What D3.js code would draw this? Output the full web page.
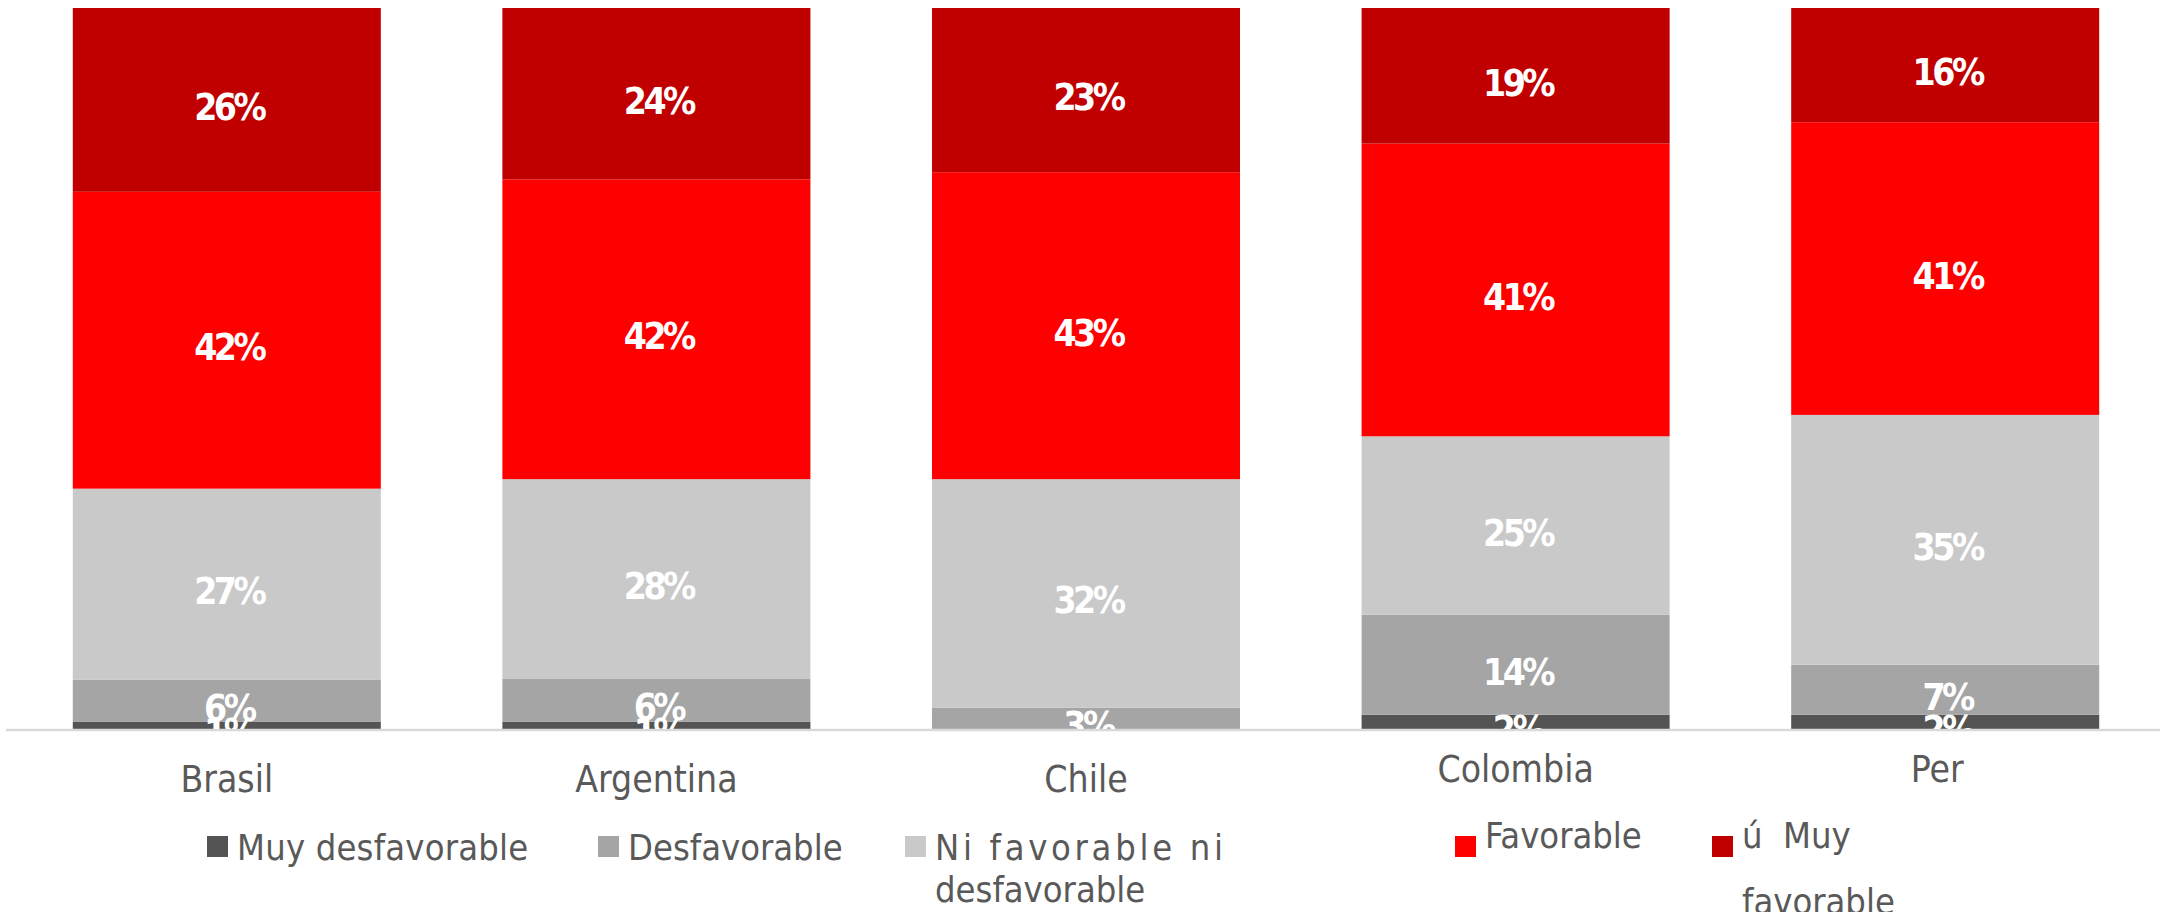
<!DOCTYPE html>
<html>
<head>
<meta charset="utf-8">
<script src="https://cdn.jsdelivr.net/npm/d3@7"></script>
<style>
  html, body { margin: 0; padding: 0; background: #ffffff; }
  svg { display: block; }
  .cond { font-family: "DejaVu Sans Condensed", "DejaVu Sans", sans-serif; font-stretch: condensed; }
</style>
</head>
<body>
<script>
// ---- data ----
const categories = ["Brasil", "Argentina", "Chile", "Colombia", "Per"];
const seriesNames = ["Muy desfavorable", "Desfavorable", "Ni favorable ni desfavorable", "Favorable", "Muy favorable"];
const muyDesfavorable = [1, 1, 0, 2, 2];
const desfavorable = [6, 6, 3, 14, 7];
const niFavorableNiDesfavorable = [27, 28, 32, 25, 35];
const favorable = [42, 42, 43, 41, 41];
const muyFavorable = [26, 24, 23, 19, 16];
const seriesColors = ["#545454", "#a5a5a5", "#c9c9c9", "#ff0000", "#c00000"];
// legend text lines as displayed
const legendLines = [["Muy desfavorable"], ["Desfavorable"], ["Ni favorable ni", "desfavorable"], ["Favorable"], ["ú\u00a0 Muy", "favorable"]];

// ---- layout ----
const W = 2165, H = 912;
const plotTop = 8, plotBottom = 729;
const legendX = [207, 598, 905, 1455, 1712];
const legendTextBaseline = [860, 860, 860, 848, 848];
const legendLineGap = [0, 0, 42, 0, 66];
const legendSpacing = [0.2, 0, 3.7, 0, 0];
const catDy = [0, 0, 0, -10, -10];
const catDx = [0, 0, 0, 0, -8];

const seriesValues = [muyDesfavorable, desfavorable, niFavorableNiDesfavorable, favorable, muyFavorable];
const table = categories.map((c, i) => {
  const row = { cat: c };
  seriesNames.forEach((s, k) => row[s] = seriesValues[k][i]);
  return row;
});

const stack = d3.stack().keys(seriesNames).offset(d3.stackOffsetExpand);
const stacked = stack(table);

const x = d3.scaleBand().domain(categories).range([12, 2160]).paddingInner(0.283).paddingOuter(0.1415);
const y = d3.scaleLinear().domain([0, 1]).range([plotBottom, plotTop]);

const svg = d3.select("body").append("svg").attr("width", W).attr("height", H);

svg.append("defs").append("clipPath").attr("id", "plotclip")
  .append("rect").attr("x", 0).attr("y", 0).attr("width", W).attr("height", plotBottom);

const layers = svg.append("g").selectAll("g").data(stacked).join("g")
  .attr("fill", (d, i) => seriesColors[i]);

layers.selectAll("rect").data(d => d.map(p => ({ p, key: d.key }))).join("rect")
  .attr("x", d => x(d.p.data.cat))
  .attr("width", x.bandwidth())
  .attr("y", d => y(d.p[1]))
  .attr("height", d => Math.max(0, y(d.p[0]) - y(d.p[1])));

// axis line
const xAxis = d3.axisBottom(x).tickSize(0).tickFormat("");
const axisG = svg.append("g").attr("transform", `translate(0,${plotBottom + 1})`).call(xAxis);
axisG.select(".domain").attr("d", `M6,0H2160`).attr("stroke", "#d9d9d9").attr("stroke-width", 2.5);

// data labels
const labelsG = svg.append("g").attr("clip-path", "url(#plotclip)");
stacked.forEach((layer) => {
  labelsG.append("g").selectAll("text")
    .data(layer.filter(p => p.data[layer.key] > 0))
    .join("text")
    .attr("x", p => x(p.data.cat) + x.bandwidth() / 2 + 2)
    .attr("y", p => (y(p[0]) + y(p[1])) / 2 + 20)
    .attr("text-anchor", "middle")
    .attr("class", "cond")
    .attr("font-weight", "bold")
    .attr("font-size", 37)
    .attr("letter-spacing", -3.5)
    .attr("fill", "#ffffff")
    .text(p => p.data[layer.key] + "%");
});

// category labels
svg.append("g").selectAll("text").data(categories).join("text")
  .attr("x", (c, i) => x(c) + x.bandwidth() / 2 + catDx[i])
  .attr("y", (c, i) => 792 + catDy[i])
  .attr("text-anchor", "middle")
  .attr("class", "cond")
  .attr("font-size", 37)
  .attr("fill", "#595959")
  .text(c => c);

// legend
const lg = svg.append("g");
seriesNames.forEach((s, i) => {
  lg.append("rect").attr("x", legendX[i]).attr("y", 836).attr("width", 21).attr("height", 21)
    .attr("fill", seriesColors[i]);
  const t = lg.append("text").attr("class", "cond").attr("font-size", 36).attr("fill", "#595959");
  legendLines[i].forEach((line, j) => {
    t.append("tspan").attr("x", legendX[i] + 30).attr("y", legendTextBaseline[i] + j * legendLineGap[i])
      .attr("letter-spacing", j === 0 ? legendSpacing[i] : 0)
      .text(line);
  });
});
</script>
</body>
</html>
